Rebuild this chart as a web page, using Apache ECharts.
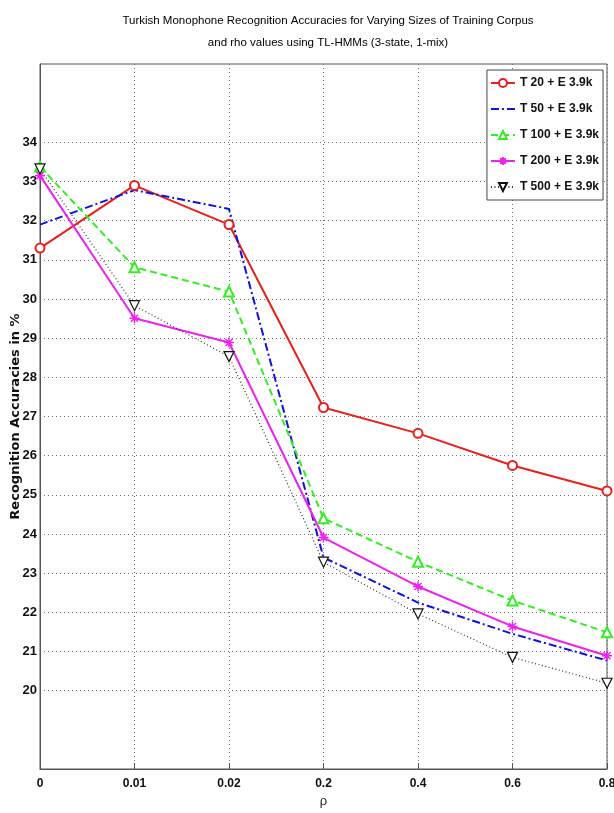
<!DOCTYPE html>
<html lang="en">
<head>
	<meta charset="UTF-8">
	<title>TL-HMMs rho</title>
	<script src="https://cdn.jsdelivr.net/npm/echarts@6/dist/echarts.min.js"></script>
	<style>
		html, body { margin: 0; padding: 0; background: #fff; }
		#main { width: 614px; height: 813px; }
	</style>
</head>
<body>
	<div id="main"></div>
	<script>
		// rho values (plotted as evenly spaced categories)
		var rhoLabels = ['0', '0.01', '0.02', '0.2', '0.4', '0.6', '0.8'];
		var yTicks = [20, 21, 22, 23, 24, 25, 26, 27, 28, 29, 30, 31, 32, 33, 34];

		var t20 = [31.3, 32.9, 31.9, 27.23, 26.57, 25.75, 25.1];
		var t50 = [31.9, 32.78, 32.3, 23.4, 22.25, 21.45, 20.77];
		var t100 = [33.38, 30.81, 30.19, 24.4, 23.29, 22.3, 21.49];
		var t200 = [33.15, 29.51, 28.89, 23.91, 22.66, 21.64, 20.89];
		var t500 = [33.32, 29.83, 28.53, 23.28, 21.96, 20.85, 20.19];

		var narrow = '"Liberation Sans Narrow", "Arial Narrow", "Liberation Sans", sans-serif';

		// grid line colours: 18..36, only 20..34 are drawn
		var gridColors = [];
		for (var v = 18; v <= 36; v++) {
			gridColors.push(yTicks.indexOf(v) >= 0 ? '#777' : 'rgba(0,0,0,0)');
		}

		var asterisk = 'path://M5,0 L5,10 M0,5 L10,5 M1.5,1.5 L8.5,8.5 M8.5,1.5 L1.5,8.5';
		var downTri = 'path://M0,0 L10,0 L5,10 Z';
		var noMark = 'path://M0,0 L10,0 L10,10 L0,10 Z';

		var chart = echarts.init(document.getElementById('main'));
		chart.setOption({
			animation: false,
			title: {
				text: 'Turkish Monophone Recognition Accuracies for Varying Sizes of Training Corpus\nand rho values using TL-HMMs (3-state, 1-mix)',
				left: 323,
				textAlign: 'center',
				top: 5,
				textStyle: {
					fontFamily: narrow,
					fontSize: 11.5,
					fontWeight: 'normal',
					color: '#000',
					lineHeight: 22
				}
			},
			legend: {
				orient: 'vertical',
				right: 11,
				top: 70,
				backgroundColor: '#fff',
				borderColor: '#444',
				borderWidth: 1,
				padding: [7, 4, 7, 3],
				itemGap: 14,
				itemWidth: 24,
				itemHeight: 10,
				textStyle: {
					fontFamily: narrow,
					fontWeight: 'bold',
					fontSize: 12,
					color: '#111'
				},
				data: ['T 20 + E 3.9k', 'T 50 + E 3.9k', 'T 100 + E 3.9k', 'T 200 + E 3.9k', 'T 500 + E 3.9k']
			},
			grid: {
				left: 40,
				right: 7,
				top: 64,
				bottom: 44,
				outerBoundsMode: 'none',
				containLabel: false,
				show: true,
				borderColor: '#555',
				borderWidth: 1
			},
			xAxis: {
				type: 'category',
				data: rhoLabels,
				boundaryGap: false,
				name: 'ρ',
				nameLocation: 'middle',
				nameGap: 26,
				nameTextStyle: { fontFamily: narrow, fontSize: 13, color: '#222' },
				axisLine: { lineStyle: { color: '#555' } },
				axisTick: { show: true, inside: true, length: 6, lineStyle: { color: '#555' } },
				axisLabel: {
					fontFamily: narrow,
					fontWeight: 'bold',
					fontSize: 12,
					color: '#111',
					margin: 9
				},
				splitLine: { show: true, lineStyle: { type: [1, 3], color: '#777' } }
			},
			yAxis: {
				type: 'value',
				min: 18,
				max: 36,
				interval: 1,
				name: 'Recognition Accuracies in %',
				nameLocation: 'middle',
				nameGap: 18,
				nameMoveOverlap: false,
				nameTextStyle: {
					fontFamily: '"DejaVu Sans", sans-serif',
					fontWeight: 'bold',
					fontSize: 13,
					color: '#111'
				},
				axisLine: { show: true, lineStyle: { color: '#555' } },
				axisTick: { show: false },
				axisLabel: {
					fontFamily: narrow,
					fontWeight: 'bold',
					fontSize: 13,
					color: '#111',
					margin: 3,
					formatter: function (v) {
						return yTicks.indexOf(v) >= 0 ? String(v) : '';
					}
				},
				splitLine: { show: true, lineStyle: { type: [1, 3], color: gridColors } }
			},
			series: [
				{
					name: 'T 20 + E 3.9k',
					type: 'line',
					data: t20,
					symbol: 'emptyCircle',
					symbolSize: 9,
					lineStyle: { color: '#e8201c', width: 2 },
					itemStyle: { color: '#e8201c', borderWidth: 1.2 }
				},
				{
					name: 'T 50 + E 3.9k',
					type: 'line',
					data: t50,
					symbol: noMark,
					showSymbol: false,
					lineStyle: { color: '#1010e0', width: 2, type: [8, 3, 2, 3] },
					itemStyle: { color: 'rgba(0,0,0,0)', borderWidth: 0 }
				},
				{
					name: 'T 100 + E 3.9k',
					type: 'line',
					data: t100,
					symbol: 'emptyTriangle',
					symbolSize: 10,
					lineStyle: { color: '#33ee22', width: 2, type: [7, 4] },
					itemStyle: { color: '#33ee22', borderWidth: 1.2 }
				},
				{
					name: 'T 200 + E 3.9k',
					type: 'line',
					data: t200,
					symbol: asterisk,
					symbolSize: 10,
					lineStyle: { color: '#ee22ee', width: 2 },
					itemStyle: { color: '#ee22ee', borderColor: '#ee22ee', borderWidth: 1.5 }
				},
				{
					name: 'T 500 + E 3.9k',
					type: 'line',
					data: t500,
					symbol: downTri,
					symbolSize: 10,
					lineStyle: { color: '#333', width: 1.2, type: [1, 2.5] },
					itemStyle: { color: '#fff', borderColor: '#111', borderWidth: 1.2 }
				}
			]
		});
	</script>
</body>
</html>
